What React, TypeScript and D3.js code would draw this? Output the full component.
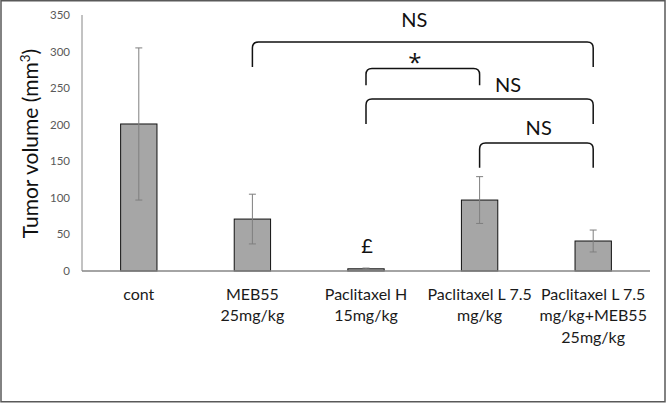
import React from "react";
import * as d3 from "d3";

const categories: string[][] = [
  ["cont"],
  ["MEB55", "25mg/kg"],
  ["Paclitaxel H", "15mg/kg"],
  ["Paclitaxel L 7.5", "mg/kg"],
  ["Paclitaxel L 7.5", "mg/kg+MEB55", "25mg/kg"],
];
const keys = ["cont", "MEB55", "PacH", "PacL", "PacL+MEB55"];
const means = [201, 71, 3, 97, 41];
const errors = [104, 34, 1, 32, 15];
const yTicks = [0, 50, 100, 150, 200, 250, 300, 350];

// significance brackets: from/to category, bar level, leg end level (data units), label, label anchor
const bracketFrom = ["MEB55", "PacH", "PacH", "PacL"];
const bracketTo = ["PacL+MEB55", "PacL", "PacL+MEB55", "PacL+MEB55"];
const bracketLevel = [313, 277, 235, 175];
const bracketLeg = [279, 254, 201, 141];
const bracketLabel = ["NS", "*", "NS", "NS"];
const bracketLabelFrac = [0.475, 0.43, 0.625, 0.52];
const bracketLabelLevel = [333, 285, 245, 186];

const W = 667;
const H = 405;
const FONT = "Lato, 'Open Sans', sans-serif";

export default function App() {
  const x = d3
    .scaleBand<string>()
    .domain(keys)
    .range([82, 650])
    .paddingInner(0.68)
    .paddingOuter(0.34);
  const y = d3.scaleLinear().domain([0, 350]).range([271, 15]);
  const cx = (k: string) => (x(k) as number) + x.bandwidth() / 2;
  const r = 6;

  return (
    <svg
      width={W}
      height={H}
      style={{ position: "absolute", left: 0, top: 0, background: "#fff" }}
      fontFamily={FONT}
    >
      <rect x={1} y={0.75} width={664} height={401} fill="#fff" stroke="#595959" strokeWidth={1.5} />

      {/* y axis */}
      <line x1={82} x2={82} y1={y(350)} y2={y(0)} stroke="#868686" strokeWidth={1} />
      {yTicks.map((t) => (
        <text key={t} x={70} y={y(t)} dy="0.35em" textAnchor="end" fontSize={11.5} fill="#595959">
          {t}
        </text>
      ))}
      <text
        transform={`translate(38,143.5) rotate(-90)`}
        textAnchor="middle"
        fontSize={21}
        fill="#111"
      >
        Tumor volume (mm
        <tspan fontSize={13.5} dy={-8}>3</tspan>
        <tspan dy={8}>)</tspan>
      </text>

      {/* bars */}
      {keys.map((k, i) => (
        <rect
          key={k}
          x={x(k)}
          y={y(means[i])}
          width={x.bandwidth()}
          height={y(0) - y(means[i])}
          fill="#a6a6a6"
          stroke="#111"
          strokeWidth={1}
        />
      ))}
      {/* baseline */}
      <line x1={82} x2={650} y1={y(0)} y2={y(0)} stroke="#868686" strokeWidth={1.5} />

      {/* error bars */}
      {keys.map((k, i) => {
        const c = cx(k);
        const hi = y(means[i] + errors[i]);
        const lo = y(means[i] - errors[i]);
        return (
          <g key={k} stroke="#7f7f7f" strokeWidth={1}>
            <line x1={c} x2={c} y1={hi} y2={lo} />
            <line x1={c - 3.5} x2={c + 3.5} y1={hi} y2={hi} />
            <line x1={c - 3.5} x2={c + 3.5} y1={lo} y2={lo} />
          </g>
        );
      })}

      {/* x labels */}
      {keys.map((k, i) => (
        <text key={k} x={cx(k)} y={299.5} textAnchor="middle" fontSize={16} fill="#1a1a1a">
          {categories[i].map((line, j) => (
            <tspan key={j} x={cx(k)} dy={j === 0 ? 0 : 21.5}>
              {line}
            </tspan>
          ))}
        </text>
      ))}

      {/* pound sign */}
      <text x={cx("PacH") + 1} y={253} textAnchor="middle" fontSize={20} fill="#111">
        £
      </text>

      {/* brackets */}
      {bracketFrom.map((f, i) => {
        const x1 = cx(f);
        const x2 = cx(bracketTo[i]);
        const yh = y(bracketLevel[i]);
        const yl = y(bracketLeg[i]);
        const p = `M${x1},${yl} L${x1},${yh + r} Q${x1},${yh} ${x1 + r},${yh} L${x2 - r},${yh} Q${x2},${yh} ${x2},${yh + r} L${x2},${yl}`;
        const lx = x1 + (x2 - x1) * bracketLabelFrac[i];
        const isStar = bracketLabel[i] === "*";
        return (
          <g key={i}>
            <path d={p} fill="none" stroke="#111" strokeWidth={1.5} />
            <text
              x={lx}
              y={y(bracketLabelLevel[i]) + (isStar ? 8 : 0)}
              textAnchor="middle"
              fontSize={isStar ? 24 : 20}
              fontFamily={isStar ? "'Open Sans', sans-serif" : FONT}
              fill="#111"
            >
              {bracketLabel[i]}
            </text>
          </g>
        );
      })}
    </svg>
  );
}
